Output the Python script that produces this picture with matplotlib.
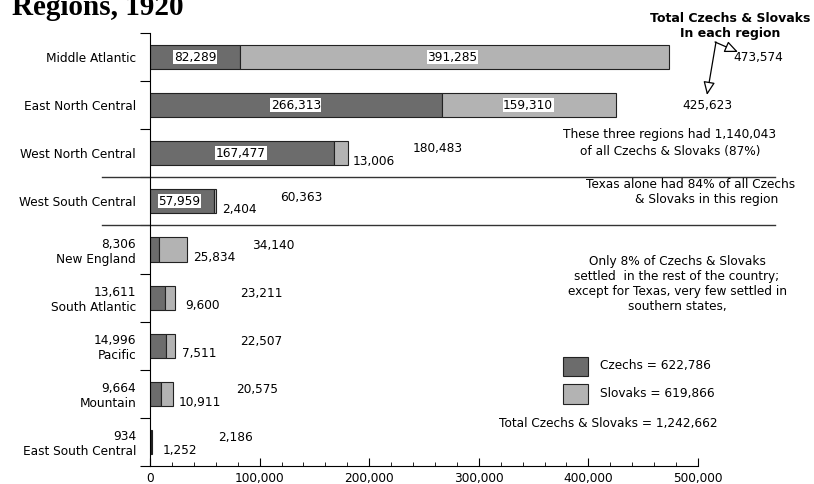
import numpy as np
import matplotlib
matplotlib.use("Agg")
import matplotlib.pyplot as plt
from matplotlib.patches import Rectangle
from matplotlib.ticker import MultipleLocator, FuncFormatter

plt.rcParams['font.family'] = ['DejaVu Sans']

# Données : Tchèques et Slovaques par région, 1920
regions = ["Middle Atlantic", "East North Central", "West North Central",
           "West South Central", "New England", "South Atlantic",
           "Pacific", "Mountain", "East South Central"]
czechs = [82289, 266313, 167477, 57959, 8306, 13611, 14996, 9664, 934]
slovaks = [391285, 159310, 13006, 2404, 25834, 9600, 7511, 10911, 1252]

# Totaux nationaux (tels qu'indiqués dans la légende)
total_czechs = 622786
total_slovaks = 619866
total_all = 1242662

# Positions des étiquettes (unités de données, axe x)
czech_in_x = [41000, 133000, 83000, 27000]
slovak_in_x = [276000, 345000]
slovak_out_x = [None, None, 185000, 66000, 39000, 32000, 29000, 26000, 12000]
total_x = [532000, 486000, 240000, 119000, 93000, 82000, 82000, 79000, 62000]

c_dark = '#6c6c6c'
c_light = '#b3b3b3'
fs = 8.7
W, H = 814, 484

fig = plt.figure(figsize=(8.14, 4.84), dpi=100)
ax = fig.add_axes([150 / W, 1 - 466 / H, 548 / W, 433 / H])

y = np.arange(len(regions))
tot = np.array(czechs) + np.array(slovaks)
ax.barh(y, czechs, height=0.5, color=c_dark, edgecolor='#222222', lw=0.8)
ax.barh(y, slovaks, left=czechs, height=0.5, color=c_light, edgecolor='#222222', lw=0.8)

ax.set_xlim(0, 500000)
ax.set_ylim(8.5, -0.5)
for s in ['top', 'right']:
    ax.spines[s].set_visible(False)

ax.xaxis.set_major_locator(MultipleLocator(100000))
ax.xaxis.set_minor_locator(MultipleLocator(20000))
ax.xaxis.set_major_formatter(FuncFormatter(lambda v, p: f"{v:,.0f}"))
ax.tick_params(axis='x', which='major', direction='in', length=6, width=0.8, labelsize=fs, pad=4)
ax.tick_params(axis='x', which='minor', direction='in', length=3, width=0.6)

labels = [r if i < 4 else f"{czechs[i]:,}\n{r}" for i, r in enumerate(regions)]
ax.set_yticks(y)
ax.set_yticklabels(labels)
ax.set_yticks(np.arange(-0.5, 9, 1), minor=True)
ax.tick_params(axis='y', which='major', length=0, pad=10, labelsize=fs)
ax.tick_params(axis='y', which='minor', direction='out', length=7, width=0.8)
for t in ax.get_yticklabels():
    t.set_linespacing(1.15)

box = dict(boxstyle='square,pad=0.05', fc='white', ec='none')
for i, xv in enumerate(czech_in_x):
    ax.text(xv, i, f"{czechs[i]:,}", ha='center', va='center', fontsize=fs, bbox=box)
for i, xv in enumerate(slovak_in_x):
    ax.text(xv, i, f"{slovaks[i]:,}", ha='center', va='center', fontsize=fs, bbox=box)
for i, xv in enumerate(slovak_out_x):
    if xv is not None:
        ax.text(xv, i + 0.17, f"{slovaks[i]:,}", ha='left', va='center', fontsize=fs)
for i, xv in enumerate(total_x):
    dy = 0 if i < 2 else -0.09
    ax.text(xv, i + dy, f"{tot[i]:,}", ha='left', va='center', fontsize=fs, clip_on=False)

# lignes de séparation
tr = matplotlib.transforms.blended_transform_factory(fig.transFigure, ax.transData)
for yy in [2.5, 3.5]:
    ax.plot([102 / W, 775 / W], [yy, yy], color='#333333', lw=1, transform=tr, clip_on=False)

# titres et notes
fig.text(12 / W, 1 - 15 / H, "Regions, 1920", fontfamily='Liberation Serif',
         fontweight='bold', fontsize=21, va='baseline')
fig.text(730 / W, 1 - 25.5 / H, "Total Czechs & Slovaks\nIn each region", ha='center',
         va='center', fontweight='bold', fontsize=9, linespacing=1.2)
ax.annotate('', xy=(738, H - 52), xytext=(715, H - 42), xycoords='figure pixels',
            textcoords='figure pixels',
            arrowprops=dict(arrowstyle='-|>,head_length=0.8,head_width=0.35', fc='white',
                            ec='black', lw=0.9, shrinkA=0, shrinkB=0))
ax.annotate('', xy=(707, H - 95), xytext=(716, H - 42), xycoords='figure pixels',
            textcoords='figure pixels',
            arrowprops=dict(arrowstyle='-|>,head_length=0.8,head_width=0.35', fc='white',
                            ec='black', lw=0.9, shrinkA=0, shrinkB=0))

fig.text(670 / W, 1 - 143.5 / H, "These three regions had 1,140,043\nof all Czechs & Slovaks (87%)",
         ha='center', va='center', fontsize=fs, linespacing=1.4)
fig.text(691 / W, 1 - 184 / H, "Texas alone had 84% of all Czechs", ha='center', va='center', fontsize=fs)
fig.text(707 / W, 1 - 200 / H, "& Slovaks in this region", ha='center', va='center', fontsize=fs)
fig.text(677 / W, 1 - 284 / H, "Only 8% of Czechs & Slovaks\nsettled  in the rest of the country;\n"
         "except for Texas, very few settled in\nsouthern states,",
         ha='center', va='center', fontsize=fs, linespacing=1.2)

# légende
fig.patches.append(Rectangle((563 / W, 1 - 376 / H), 25 / W, 19 / H, transform=fig.transFigure,
                             fc=c_dark, ec='#222222', lw=0.8))
fig.patches.append(Rectangle((563 / W, 1 - 404 / H), 25 / W, 20 / H, transform=fig.transFigure,
                             fc=c_light, ec='#222222', lw=0.8))
fig.text(600 / W, 1 - 366 / H, f"Czechs = {total_czechs:,}", va='center', fontsize=fs)
fig.text(600 / W, 1 - 393 / H, f"Slovaks = {total_slovaks:,}", va='center', fontsize=fs)
fig.text(608 / W, 1 - 423 / H, f"Total Czechs & Slovaks = {total_all:,}",
         ha='center', va='center', fontsize=fs)

fig.savefig("out.png", dpi=100)
